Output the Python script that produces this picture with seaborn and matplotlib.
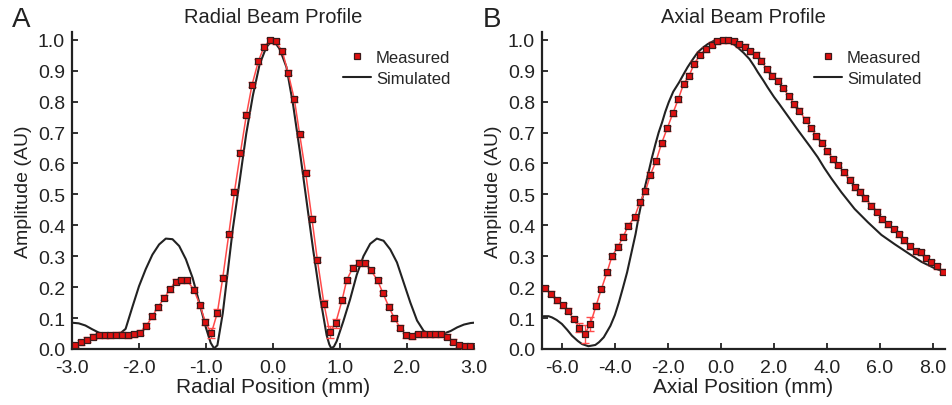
import numpy as np
import pandas as pd
import matplotlib
matplotlib.use("Agg")
import matplotlib.pyplot as plt
import seaborn as sns
from matplotlib.ticker import FormatStrFormatter, MultipleLocator
from matplotlib.lines import Line2D

# ---------------- data: radial ----------------
rad_meas_x = [-2.95, -2.86, -2.77, -2.69, -2.60, -2.51, -2.43, -2.34, -2.25, -2.17,
              -2.08, -1.99, -1.89, -1.80, -1.72, -1.62, -1.54, -1.45, -1.37, -1.28,
              -1.18, -1.09, -1.01, -0.92, -0.83, -0.75, -0.66, -0.575, -0.486, -0.397,
              -0.313, -0.218, -0.134, -0.045, 0.04, 0.14, 0.224, 0.319, 0.398, 0.487,
              0.581, 0.662, 0.76, 0.845, 0.934, 1.03, 1.10, 1.19, 1.28, 1.37,
              1.46, 1.56, 1.64, 1.73, 1.81, 1.90, 1.99, 2.07, 2.16, 2.25,
              2.34, 2.42, 2.51, 2.60, 2.69, 2.77, 2.86, 2.94]
rad_meas_y = [0.013, 0.022, 0.030, 0.040, 0.045, 0.045, 0.045, 0.046, 0.046, 0.045,
              0.047, 0.052, 0.075, 0.106, 0.135, 0.165, 0.193, 0.218, 0.223, 0.222,
              0.191, 0.142, 0.087, 0.051, 0.118, 0.230, 0.371, 0.509, 0.635, 0.757,
              0.854, 0.931, 0.977, 0.998, 0.995, 0.962, 0.894, 0.807, 0.694, 0.570,
              0.421, 0.288, 0.147, 0.055, 0.083, 0.157, 0.223, 0.262, 0.279, 0.277,
              0.255, 0.222, 0.181, 0.136, 0.100, 0.068, 0.044, 0.041, 0.047, 0.047,
              0.047, 0.047, 0.047, 0.040, 0.024, 0.013, 0.009, 0.009]
rad_meas_err = [0.008] * 22 + [0.010, 0.016, 0.012] + [0.008] * 17 + [0.010, 0.018, 0.014] + [0.008] * 23

rad_sim_x = [-3.0, -2.9, -2.8, -2.7, -2.6, -2.5, -2.4, -2.3, -2.2, -2.1,
             -2.0, -1.9, -1.8, -1.7, -1.6, -1.5, -1.4, -1.3, -1.2, -1.1,
             -1.0, -0.93, -0.88, -0.83, -0.75, -0.7, -0.6, -0.5, -0.4, -0.3,
             -0.2, -0.1, 0.0, 0.1, 0.2, 0.3, 0.4, 0.5, 0.6, 0.7,
             0.8, 0.84, 0.87, 0.91, 0.95, 1.05, 1.15, 1.25, 1.35, 1.45,
             1.55, 1.65, 1.75, 1.85, 1.95, 2.05, 2.15, 2.25, 2.35, 2.45,
             2.55, 2.65, 2.75, 2.85, 2.95, 3.0]
rad_sim_y = [0.085, 0.083, 0.076, 0.064, 0.053, 0.047, 0.045, 0.047, 0.065, 0.135,
             0.203, 0.258, 0.305, 0.338, 0.357, 0.355, 0.333, 0.290, 0.230, 0.150,
             0.068, 0.020, 0.002, 0.012, 0.115, 0.205, 0.388, 0.540, 0.695, 0.820,
             0.920, 0.976, 1.000, 0.970, 0.912, 0.790, 0.640, 0.480, 0.320, 0.172,
             0.045, 0.015, 0.002, 0.008, 0.025, 0.090, 0.160, 0.240, 0.300, 0.340,
             0.357, 0.350, 0.322, 0.280, 0.215, 0.150, 0.092, 0.058, 0.048, 0.046,
             0.050, 0.058, 0.070, 0.079, 0.084, 0.085]

# ---------------- data: axial ----------------
ax_meas_x = [-6.63, -6.40, -6.19, -5.97, -5.77, -5.56, -5.34, -5.14, -4.93, -4.71,
             -4.51, -4.30, -4.11, -3.88, -3.69, -3.50, -3.26, -3.06, -2.85, -2.66,
             -2.45, -2.24, -2.03, -1.81, -1.61, -1.41, -1.20, -1.01, -0.78, -0.57,
             -0.35, -0.15, 0.06, 0.28, 0.48, 0.69, 0.91, 1.11, 1.32, 1.51,
             1.74, 1.93, 2.14, 2.35, 2.56, 2.77, 2.96, 3.19, 3.40, 3.60,
             3.82, 4.01, 4.22, 4.43, 4.64, 4.85, 5.04, 5.25, 5.45, 5.67,
             5.88, 6.08, 6.30, 6.51, 6.70, 6.90, 7.14, 7.34, 7.56, 7.75,
             7.94, 8.15, 8.38]
ax_meas_y = [0.196, 0.178, 0.157, 0.142, 0.123, 0.097, 0.069, 0.048, 0.080, 0.140,
             0.194, 0.248, 0.300, 0.331, 0.363, 0.398, 0.426, 0.474, 0.510, 0.564,
             0.607, 0.665, 0.713, 0.763, 0.808, 0.857, 0.884, 0.922, 0.952, 0.969,
             0.984, 0.995, 0.999, 0.999, 0.995, 0.986, 0.977, 0.963, 0.951, 0.932,
             0.905, 0.884, 0.867, 0.844, 0.817, 0.792, 0.770, 0.741, 0.714, 0.688,
             0.667, 0.640, 0.614, 0.595, 0.571, 0.547, 0.523, 0.509, 0.488, 0.463,
             0.444, 0.420, 0.404, 0.388, 0.371, 0.352, 0.332, 0.316, 0.313, 0.293,
             0.280, 0.267, 0.250]
ax_meas_err = [0.008] * 6 + [0.014, 0.028, 0.022] + [0.008] * 64

ax_sim_x = [-6.69, -6.5, -6.37, -6.2, -6.0, -5.8, -5.62, -5.4, -5.24, -5.0,
            -4.74, -4.6, -4.42, -4.17, -4.0, -3.85, -3.7, -3.54, -3.38, -3.22,
            -3.1, -2.97, -2.85, -2.72, -2.6, -2.47, -2.35, -2.22, -2.1, -1.97,
            -1.8, -1.58, -1.4, -1.26, -1.1, -0.88, -0.7, -0.5, -0.3, -0.12,
            0.1, 0.25, 0.45, 0.63, 0.85, 1.07, 1.25, 1.39, 1.6, 1.76,
            2.0, 2.2, 2.45, 2.65, 2.9, 3.15, 3.4, 3.65, 3.9, 4.16,
            4.54, 5.04, 5.54, 6.05, 6.55, 7.06, 7.56, 8.06, 8.31]
ax_sim_y = [0.106, 0.106, 0.102, 0.094, 0.081, 0.062, 0.043, 0.026, 0.016, 0.009,
            0.013, 0.022, 0.038, 0.075, 0.110, 0.151, 0.197, 0.248, 0.310, 0.372,
            0.430, 0.485, 0.530, 0.576, 0.620, 0.663, 0.700, 0.733, 0.767, 0.798,
            0.832, 0.862, 0.890, 0.911, 0.932, 0.959, 0.973, 0.986, 0.995, 1.000,
            1.000, 0.996, 0.987, 0.975, 0.958, 0.938, 0.915, 0.895, 0.868, 0.846,
            0.815, 0.792, 0.762, 0.738, 0.708, 0.679, 0.650, 0.620, 0.585, 0.552,
            0.507, 0.453, 0.410, 0.369, 0.339, 0.310, 0.282, 0.261, 0.253]

titles = ["Radial Beam Profile", "Axial Beam Profile"]
xlabels = ["Radial Position (mm)", "Axial Position (mm)"]
ylabel = "Amplitude (AU)"
panel_letters = ["A", "B"]
legend_labels = ["Measured", "Simulated"]

# ---------------- style ----------------
sns.set_theme(style="ticks")
plt.rcParams["font.family"] = ["Liberation Sans", "DejaVu Sans"]
plt.rcParams["axes.unicode_minus"] = False

RED = "#e01010"
LINE_RED = "#ff4a4a"
EDGE = "#3a1a1a"
INK = "#222222"

fig = plt.figure(figsize=(9.53, 4.06), dpi=100)
axA = fig.add_axes([72 / 953, 56 / 406, 402 / 953, 317 / 406])
axB = fig.add_axes([542 / 953, 56 / 406, 403 / 953, 317 / 406])

panels = [
    (axA, rad_meas_x, rad_meas_y, rad_meas_err, rad_sim_x, rad_sim_y, (-3.0, 3.0), 1.0),
    (axB, ax_meas_x, ax_meas_y, ax_meas_err, ax_sim_x, ax_sim_y, (-6.75, 8.45), 2.0),
]

for i, (ax, mx, my, me, sx, sy, xlim, xstep) in enumerate(panels):
    dfm = pd.DataFrame({"x": mx, "y": my, "err": me})
    dfs = pd.DataFrame({"x": sx, "y": sy})

    sns.lineplot(data=dfs, x="x", y="y", ax=ax, color=INK, lw=1.5,
                 sort=False, zorder=2)
    ax.errorbar(dfm["x"], dfm["y"], yerr=dfm["err"], fmt="none", ecolor=LINE_RED,
                elinewidth=1.0, capsize=2.6, capthick=1.0, zorder=3)
    sns.lineplot(data=dfm, x="x", y="y", ax=ax, color=LINE_RED, lw=1.1,
                 sort=False, zorder=3)
    sns.scatterplot(data=dfm, x="x", y="y", ax=ax, marker="s", s=17,
                    color=RED, edgecolor=EDGE, linewidth=0.9, zorder=4)

    ax.set_xlim(*xlim)
    ax.set_ylim(0, 1.025)
    ax.xaxis.set_major_locator(MultipleLocator(xstep))
    ax.yaxis.set_major_locator(MultipleLocator(0.1))
    ax.xaxis.set_major_formatter(FormatStrFormatter("%.1f"))
    ax.yaxis.set_major_formatter(FormatStrFormatter("%.1f"))
    ax.tick_params(axis="both", direction="in", length=4, width=1.3,
                   labelsize=14, colors=INK)
    ax.tick_params(axis="x", pad=7)
    ax.tick_params(axis="y", pad=5)
    for side in ["top", "right"]:
        ax.spines[side].set_visible(False)
    for side in ["left", "bottom"]:
        ax.spines[side].set_linewidth(1.6)
        ax.spines[side].set_color(INK)

    ax.set_title(titles[i], fontsize=14.5, pad=7, color=INK)
    ax.set_xlabel(xlabels[i], fontsize=15, labelpad=1, color=INK)
    ax.set_ylabel(ylabel, fontsize=14, labelpad=4, color=INK)

    handles = [
        Line2D([], [], ls="none", marker="s", markersize=5, markerfacecolor=RED,
               markeredgecolor=EDGE, markeredgewidth=0.9),
        Line2D([], [], color=INK, lw=1.5),
    ]
    ax.legend(handles, legend_labels, loc="upper right", bbox_to_anchor=(0.97, 0.98),
              frameon=False, fontsize=12, handlelength=1.7, handletextpad=0.3,
              labelspacing=0.35, borderaxespad=0.3)

fig.text(12 / 953, 1 - 27 / 406, panel_letters[0], fontsize=20, color=INK)
fig.text(483 / 953, 1 - 27 / 406, panel_letters[1], fontsize=20, color=INK)

fig.savefig("out.png", dpi=100)
